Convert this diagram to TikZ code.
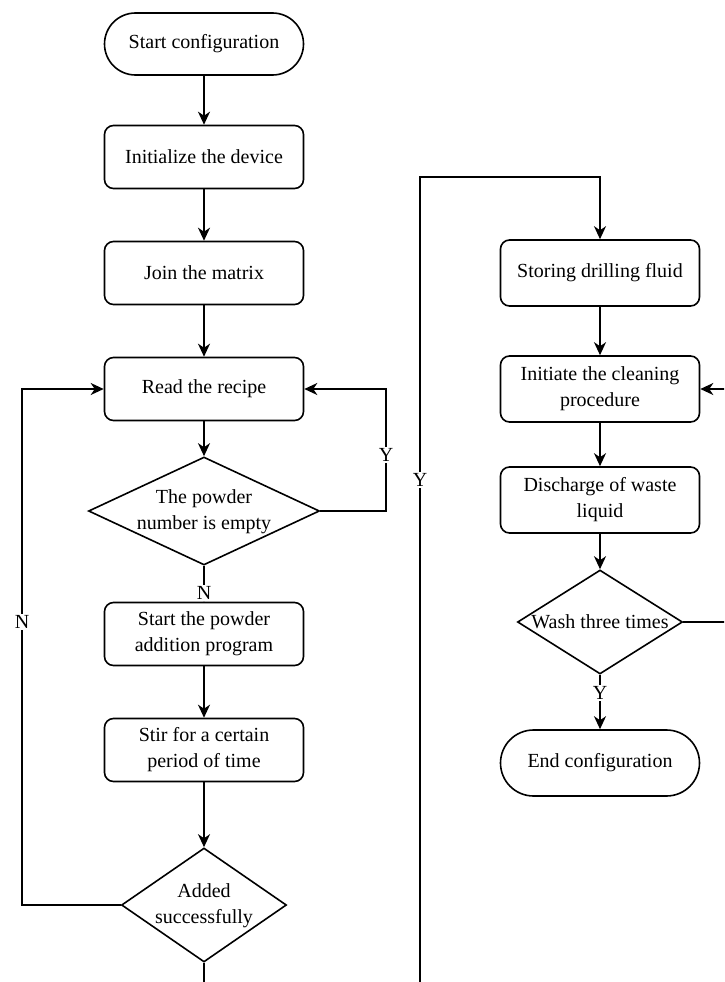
\documentclass[tikz,border=0pt]{standalone}
\usepackage{fontspec}
\setmainfont{Liberation Serif}
\usetikzlibrary{shapes.geometric,arrows.meta}
\begin{document}
\begin{tikzpicture}[x=1pt,y=-1pt,
  every node/.style={font=\fontsize{20}{26}\selectfont},
  box/.style={draw, line width=1.6pt, rounded corners=9pt, minimum width=199pt, minimum height=63pt, align=center, inner sep=0pt},
  rbox/.style={box, minimum height=66pt},
  term/.style={box, rounded corners=31pt, minimum height=62pt},
  dec/.style={draw, line width=1.6pt, diamond, inner sep=0pt},
  conn/.style={line width=1.6pt, -{Stealth[length=13pt,width=12pt,inset=4pt]}},
  lab/.style={fill=white, inner sep=1pt}]
\clip (0,0) rectangle (724,982);
\fill[white] (0,0) rectangle (724,982);
% left column
\node[term] (start) at (204,44) {Start configuration};
\node[box] (init) at (204,157) {Initialize the device};
\node[box] (join) at (204,273) {Join the matrix};
\node[box] (read) at (204,389) {Read the recipe};
\node[dec, minimum width=231pt, minimum height=108pt, aspect=2.14] (pow) at (204,511)
  {\makebox[0pt]{\begin{tabular}{@{}c@{}}The powder\\[0pt]number is empty\end{tabular}}};
\node[box] (padd) at (204,634) {Start the powder\\addition program};
\node[box] (stir) at (204,750) {Stir for a certain\\period of time};
\node[dec, minimum width=165pt, minimum height=114pt, aspect=1.45] (added) at (204,905)
  {\makebox[0pt]{\begin{tabular}{@{}c@{}}Added\\[0pt]successfully\end{tabular}}};
% right column
\node[rbox] (store) at (600,273) {Storing drilling fluid};
\node[rbox] (clean) at (600,389) {Initiate the cleaning\\procedure};
\node[rbox] (waste) at (600,500) {Discharge of waste\\liquid};
\node[dec, minimum width=165pt, minimum height=104pt, aspect=1.58] (wash) at (600,622)
  {\makebox[0pt]{Wash three times}};
\node[term, minimum height=66pt, rounded corners=33pt] (end) at (600,763) {End configuration};
% coordinates
\coordinate (ny) at (386,511);
\coordinate (nl) at (22,905);
\coordinate (bl) at (204,1000);
\coordinate (br) at (420,1000);
\coordinate (tr) at (420,177);
\coordinate (wr) at (740,622);
% connectors left
\draw[conn] (start) -- (init);
\draw[conn] (init) -- (join);
\draw[conn] (join) -- (read);
\draw[conn] (read) -- (pow);
\draw[conn] (pow.east) -- (ny) |- (read.east);
\node[lab] (ylab1) at (386,455) {Y};
\draw[conn] (pow.south) -- (padd.north);
\node[lab] (nlab1) at (204,593) {N};
\draw[conn] (padd) -- (stir);
\draw[conn] (stir) -- (added);
\draw[conn] (added.west) -- (nl) |- (read.west);
\node[lab] (nlab2) at (22,622) {N};
% bottom / cross connector
\draw[conn] (added.south) -- (bl) -- (br) -- (tr) -| (store.north);
\node[lab] (ylab2) at (420,480) {Y};
% connectors right
\draw[conn] (store) -- (clean);
\draw[conn] (clean) -- (waste);
\draw[conn] (waste) -- (wash);
\draw[conn] (wash.east) -- (wr) |- (clean.east);
\draw[conn] (wash.south) -- (end.north);
\node[lab] (ylab3) at (600,693) {Y};
\end{tikzpicture}
\end{document}
